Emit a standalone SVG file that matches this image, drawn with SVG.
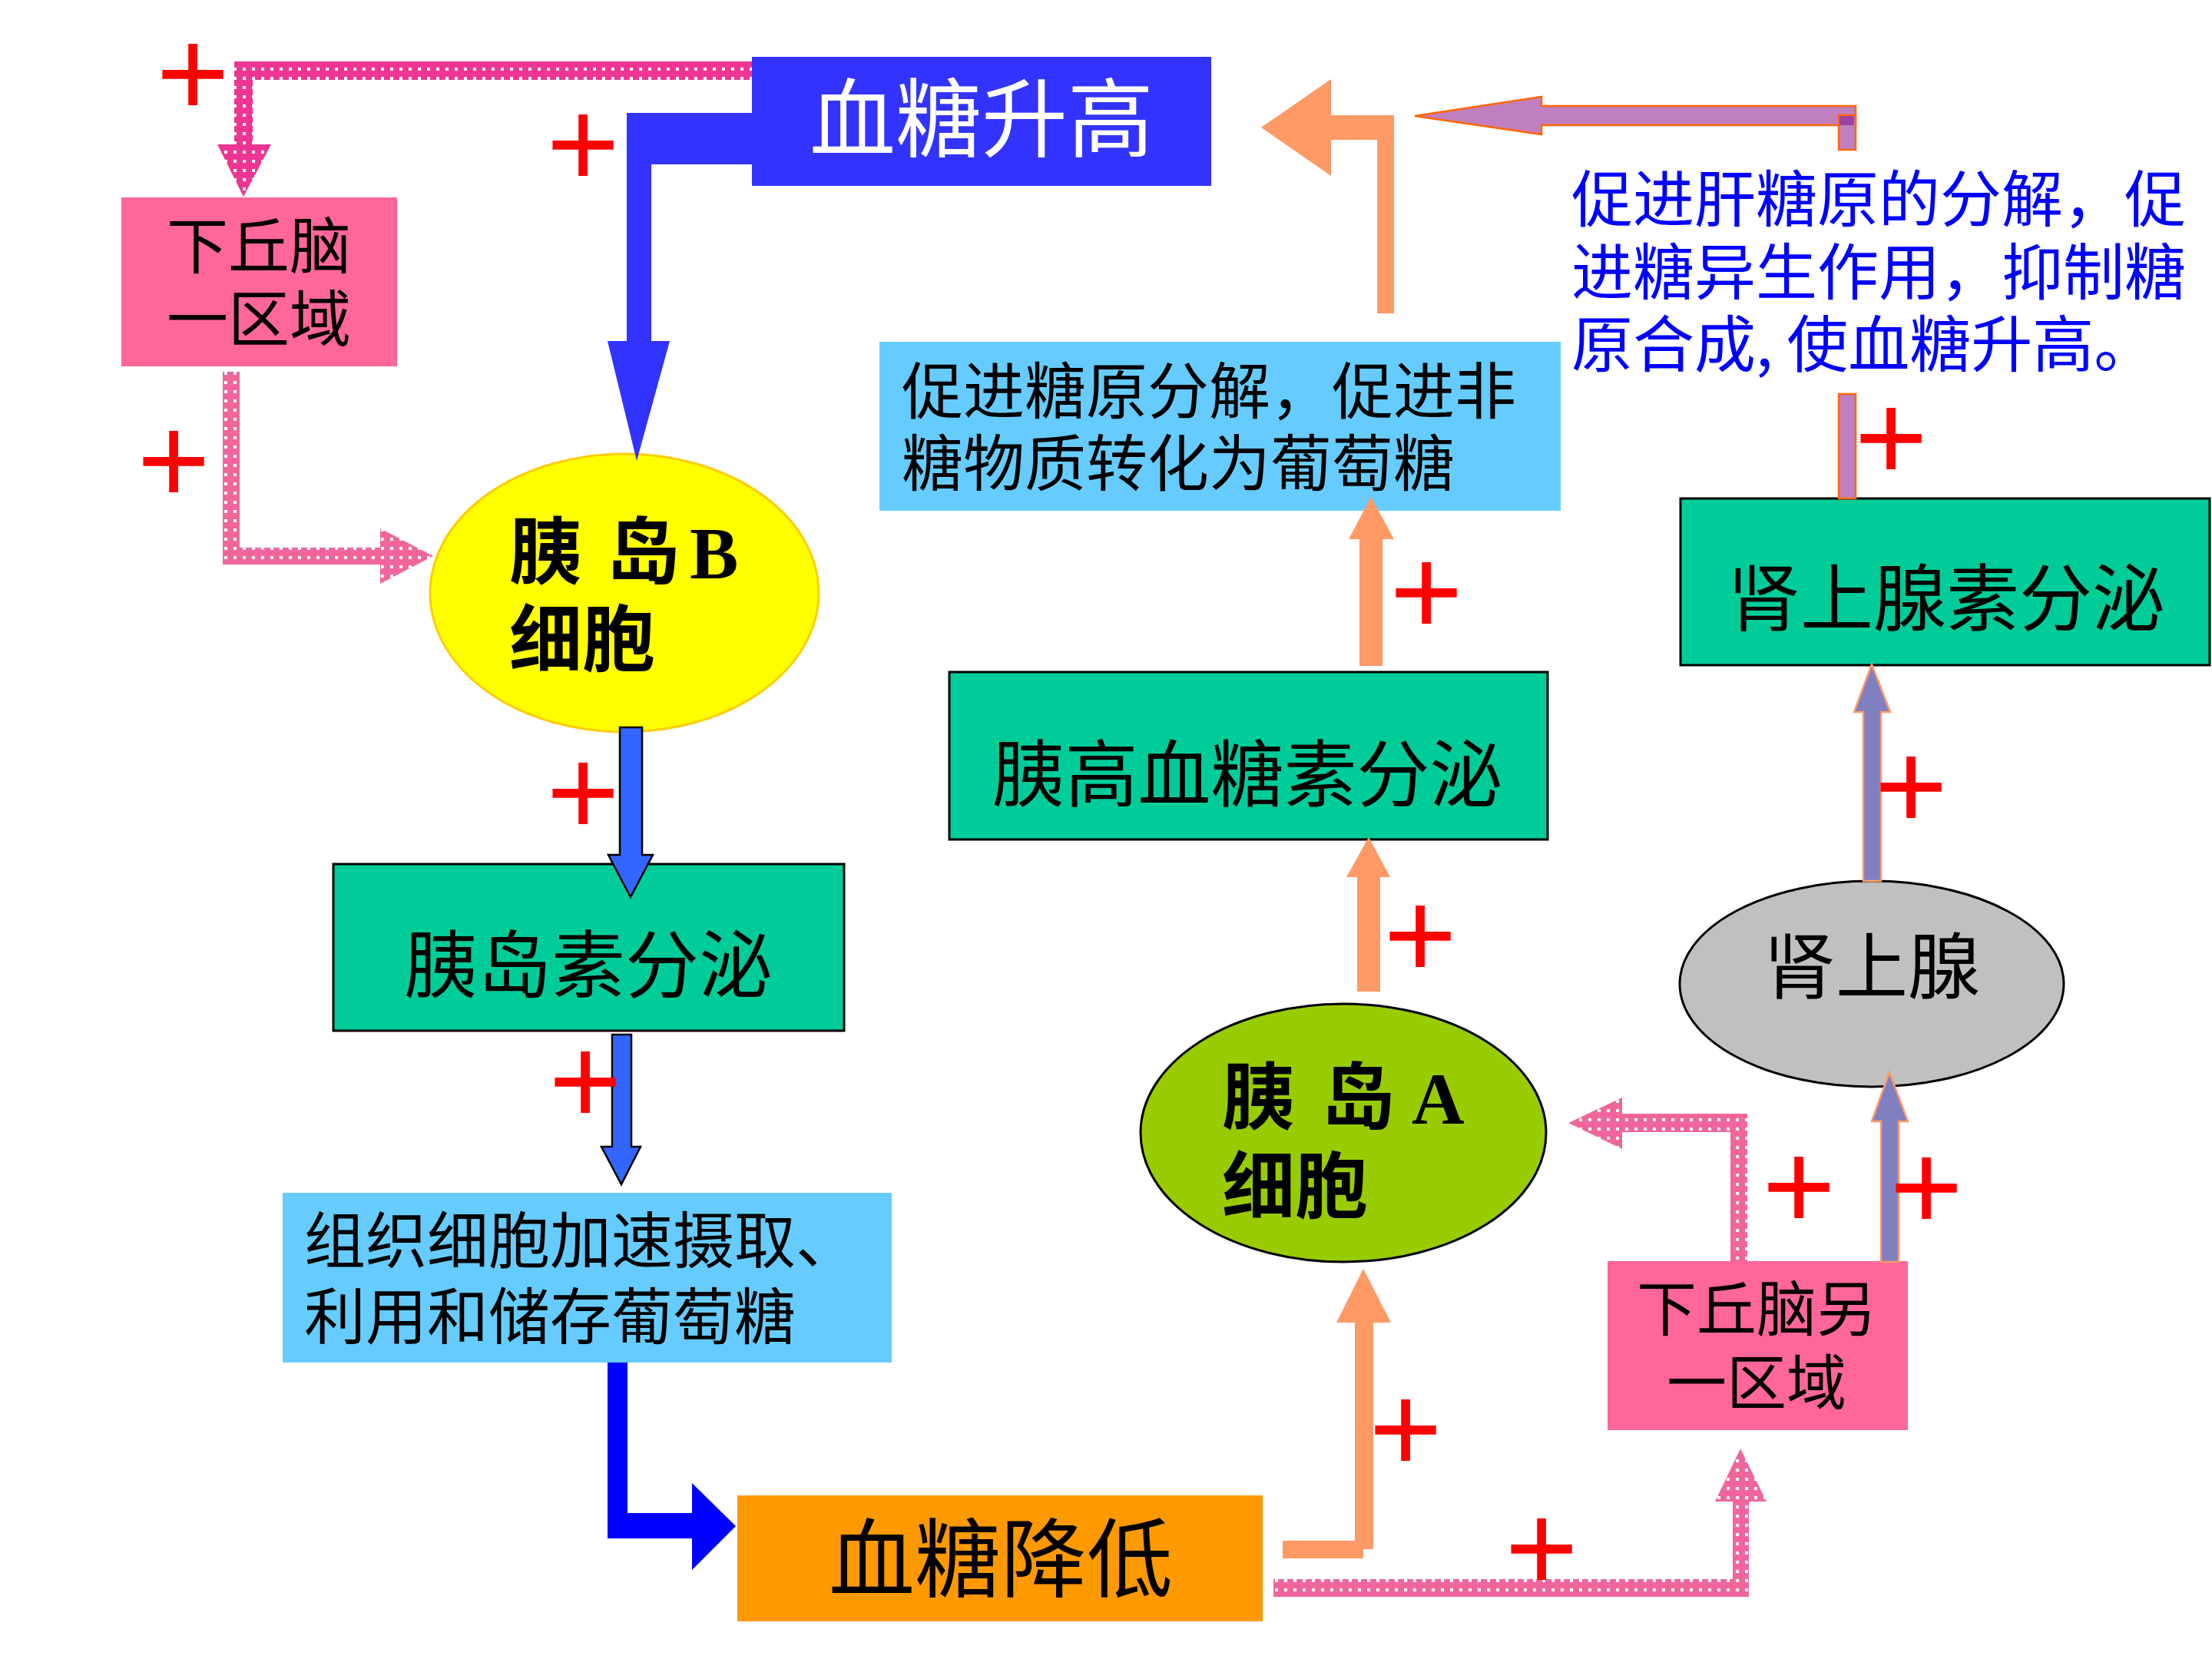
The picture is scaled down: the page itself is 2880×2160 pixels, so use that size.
<svg xmlns="http://www.w3.org/2000/svg" width="2880" height="2160" viewBox="0 0 2880 2160">
<style>
.t{font-family:"Noto Sans CJK SC","Noto Sans",sans-serif;fill:#000}
.mid{text-anchor:middle}
.lat{font-family:"Liberation Serif","Times New Roman",serif;font-weight:bold}
.plus{font-family:"Liberation Sans",Arial,sans-serif;font-size:163px;fill:#FF0000;text-anchor:middle}
.green{fill:#00CC99;stroke:#000;stroke-width:3}
.pink{fill:#FF6699}
.lblue{fill:#66CCFF}
.orng{fill:#FF9966}
.purp1{fill:#C080C0;stroke:#FF6600;stroke-width:2.5}
.purp2{fill:#8080C0;stroke:#FF9966;stroke-width:2.5}
</style>
<defs>
<pattern id="patDark" patternUnits="userSpaceOnUse" width="12" height="12">
<rect width="12" height="12" fill="#EE3593"/>
<rect x="4" y="4" width="4" height="4" fill="#FFFFFF"/>
</pattern>
<pattern id="patLight" patternUnits="userSpaceOnUse" width="12" height="12">
<rect width="12" height="12" fill="#F0669C"/>
<rect x="4" y="4" width="4" height="4" fill="#FFFFFF"/>
</pattern>
</defs>
<rect width="2880" height="2160" fill="#FFFFFF"/>

<g id="node-high">
<rect x="979" y="74" width="598" height="168" fill="#3333FF"/>
<text class="t mid" x="1278" y="196" font-size="112" style="fill:#FFFFFF">血糖升高</text>
</g>
<g id="node-hypo1">
<rect class="pink" x="158" y="257" width="359" height="220"/>
<text class="t mid" font-size="80"><tspan x="337" y="349">下丘脑</tspan><tspan x="337" y="444">一区域</tspan></text>
</g>
<g id="node-bcell">
<ellipse cx="813" cy="772" rx="253" ry="181" fill="#FFFF00" stroke="#FFCC00" stroke-width="3"/>
<text class="t" font-size="95" font-weight="bold"><tspan x="663" y="753">胰</tspan><tspan x="790" y="753">岛</tspan><tspan class="lat" x="898" y="753">B</tspan><tspan x="663" y="867">细胞</tspan></text>
</g>
<g id="node-insulin">
<rect class="green" x="434" y="1125" width="665" height="217"/>
<text class="t mid" x="766" y="1291" font-size="96">胰岛素分泌</text>
</g>
<g id="node-tissue">
<rect class="lblue" x="368" y="1553" width="793" height="221"/>
<text class="t" font-size="80"><tspan x="396" y="1644">组织细胞加速摄取、</tspan><tspan x="396" y="1743">利用和储存葡萄糖</tspan></text>
</g>
<g id="node-low">
<rect x="960" y="1947" width="684" height="164" fill="#FF9900"/>
<text class="t mid" x="1303" y="2071" font-size="112">血糖降低</text>
</g>
<g id="node-glycogen">
<rect class="lblue" x="1145" y="445" width="887" height="220"/>
<text class="t" font-size="80"><tspan x="1174" y="538">促进糖原分解，促进非</tspan><tspan x="1174" y="632">糖物质转化为葡萄糖</tspan></text>
</g>
<g id="node-glucagon">
<rect class="green" x="1236" y="875" width="779" height="218"/>
<text class="t mid" x="1624" y="1043" font-size="95">胰高血糖素分泌</text>
</g>
<g id="node-acell">
<ellipse cx="1749" cy="1475" rx="264" ry="168" fill="#99CC00" stroke="#000" stroke-width="3"/>
<text class="t" font-size="95" font-weight="bold"><tspan x="1591" y="1463">胰</tspan><tspan x="1721" y="1463">岛</tspan><tspan class="lat" x="1838" y="1463">A</tspan><tspan x="1591" y="1579">细胞</tspan></text>
</g>
<g id="node-adrenal">
<ellipse cx="2437" cy="1281" rx="250" ry="134" fill="#C0C0C0" stroke="#000" stroke-width="3"/>
<text class="t mid" x="2437" y="1293" font-size="94">肾上腺</text>
</g>
<g id="node-adrenaline">
<rect class="green" x="2188" y="649" width="689" height="217"/>
<text class="t mid" x="2534" y="814" font-size="95">肾上腺素分泌</text>
</g>
<g id="node-hypo2">
<rect class="pink" x="2093" y="1642" width="391" height="220"/>
<text class="t mid" font-size="78"><tspan x="2287" y="1733">下丘脑另</tspan><tspan x="2287" y="1829">一区域</tspan></text>
</g>
<g id="node-liver-text">
<text class="t" font-size="80" style="fill:#0000FF"><tspan x="2046" y="288">促进肝糖原的分解，促</tspan><tspan x="2046" y="383">进糖异生作用，抑制糖</tspan><tspan x="2046" y="477">原合成, 使血糖升高。</tspan></text>
</g>

<g id="connectors">
<polygon fill="url(#patDark)" points="979,80 305,80 305,188 283,188 317,256 353,188 329,188 329,104 979,104"/>
<polygon fill="url(#patLight)" points="290,484 312,484 312,713 495,713 495,688 564,724 495,760 495,735 290,735"/>
<polygon fill="#3333FF" points="979,147 816,147 816,444 791,444 829,600 872,444 848,444 848,214 979,214"/>
<polygon fill="#3366FF" stroke="#000" stroke-width="2.5" points="807,947 836,947 836,1113 850,1113 821,1168 792,1113 807,1113"/>
<polygon fill="#3366FF" stroke="#000" stroke-width="2.5" points="797,1347 822,1347 822,1493 834,1493 809,1542 783,1493 797,1493"/>
<polygon fill="#0000FF" points="791,1774 817,1774 817,1970 901,1970 901,1931 958,1987 901,2044 901,2003 791,2003"/>
<polygon class="orng" points="1670,2006 1764,2006 1764,1722 1740,1722 1775,1652 1811,1722 1788,1722 1788,2017 1775,2017 1775,2029 1670,2029"/>
<polygon fill="url(#patLight)" points="1658,2056 2256,2056 2256,1955 2233,1955 2266,1886 2300,1955 2277,1955 2277,2079 1658,2079"/>
<polygon class="orng" points="1767,1291 1797,1291 1797,1142 1810,1142 1782,1090 1753,1142 1767,1142"/>
<polygon class="orng" points="1770,867 1800,867 1800,702 1815,702 1785,647 1756,702 1770,702"/>
<polygon class="orng" points="1793,408 1815,408 1815,150 1733,150 1733,103 1642,166 1733,229 1733,182 1793,182"/>
<polygon fill="url(#patLight)" points="2253,1643 2275,1643 2275,1450 2112,1450 2112,1429 2042,1462 2112,1496 2112,1474 2253,1474"/>
<polygon class="purp2" points="2449,1643 2472,1643 2472,1460 2484,1460 2460,1396 2437,1460 2449,1460"/>
<polygon class="purp2" points="2426,1147 2449,1147 2449,927 2461,927 2437,865 2414,927 2426,927"/>
<rect class="purp1" x="2394" y="513" width="22" height="136"/>
<polygon class="purp1" points="2416,138 2007,138 2007,126 1842,151 2007,175 2007,163 2416,163"/>
<rect class="purp1" x="2394" y="150" width="22" height="45"/>
<rect x="2395" y="151" width="19" height="12" fill="#A040A0"/>
</g>

<g id="plus-signs">
<text class="plus" x="251" y="151">+</text>
<text class="plus" x="759" y="243">+</text>
<text class="plus" x="226" y="655">+</text>
<text class="plus" x="759" y="1087">+</text>
<text class="plus" x="762" y="1463">+</text>
<text class="plus" x="1857" y="826">+</text>
<text class="plus" x="1849" y="1273">+</text>
<text class="plus" x="1830" y="1916">+</text>
<text class="plus" x="2007" y="2071">+</text>
<text class="plus" x="2462" y="625">+</text>
<text class="plus" x="2488" y="1079">+</text>
<text class="plus" x="2342" y="1600">+</text>
<text class="plus" x="2508" y="1601">+</text>
</g>
</svg>
